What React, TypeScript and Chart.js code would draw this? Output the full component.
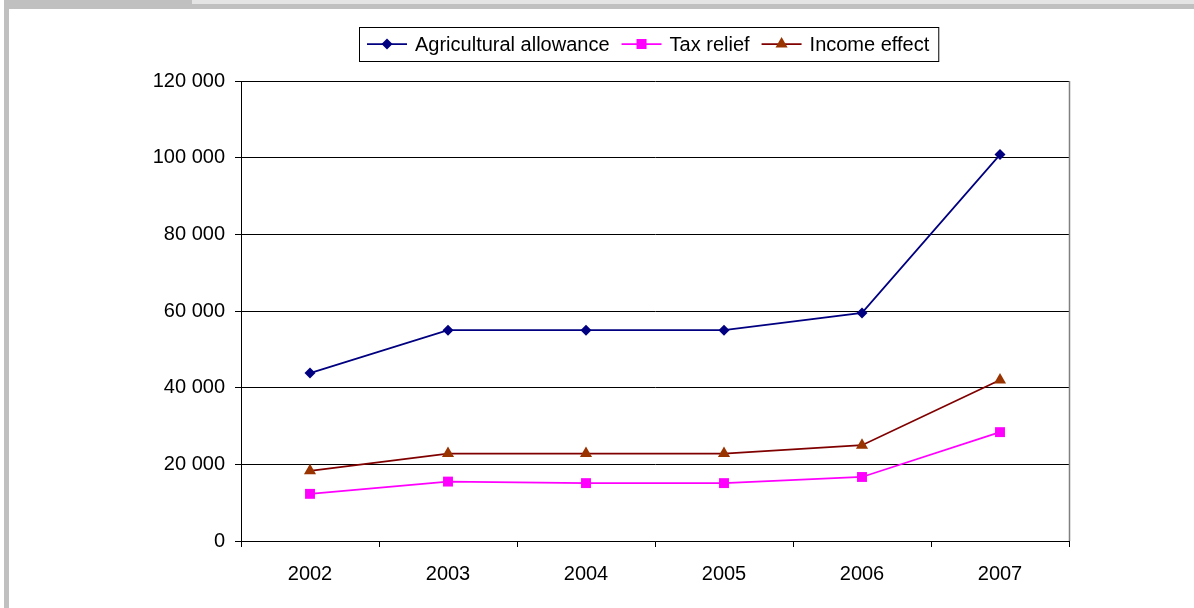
import React, { useEffect, useRef } from 'react';
import { Chart, registerables } from 'chart.js';

Chart.register(...registerables);

const years = ['2002', '2003', '2004', '2005', '2006', '2007'];
const agricultural = [43800, 55000, 55000, 55000, 59500, 100800];
const taxRelief = [12300, 15500, 15100, 15100, 16700, 28400];
const incomeEffect = [18300, 22800, 22800, 22800, 25000, 42000];
const seriesNames = ['Agricultural allowance', 'Tax relief', 'Income effect'];
const yMin = 0;
const yMax = 120000;
const yStep = 20000;

const FONT = '"Liberation Sans", Arial, sans-serif';

type Marker = 'diamond' | 'square' | 'triangle';

function drawMarker(ctx: CanvasRenderingContext2D, kind: Marker, x: number, y: number, color: string) {
  ctx.save();
  ctx.fillStyle = color;
  ctx.beginPath();
  if (kind === 'diamond') {
    const r = 5.5;
    ctx.moveTo(x, y - r);
    ctx.lineTo(x + r, y);
    ctx.lineTo(x, y + r);
    ctx.lineTo(x - r, y);
  } else if (kind === 'square') {
    const h = 5;
    ctx.rect(x - h, y - h, 2 * h, 2 * h);
  } else {
    const r = 7;
    ctx.moveTo(x, y - r);
    ctx.lineTo(x + r * 0.866, y + r * 0.5);
    ctx.lineTo(x - r * 0.866, y + r * 0.5);
  }
  ctx.closePath();
  ctx.fill();
  ctx.restore();
}

const legendItems: { name: string; line: string; marker: string; kind: Marker }[] = [
  { name: seriesNames[0], line: '#000080', marker: '#000080', kind: 'diamond' },
  { name: seriesNames[1], line: '#FF00FF', marker: '#FF00FF', kind: 'square' },
  { name: seriesNames[2], line: '#800000', marker: '#993300', kind: 'triangle' },
];

const customLegend = {
  id: 'customLegend',
  afterDraw(chart: any) {
    const ctx: CanvasRenderingContext2D = chart.ctx;
    ctx.save();
    ctx.font = `20px ${FONT}`;
    ctx.textBaseline = 'middle';
    ctx.textAlign = 'left';
    const left = 359;
    const top = 27;
    const cy = 44;
    let x = left + 8;
    for (let i = 0; i < legendItems.length; i++) {
      const it = legendItems[i];
      ctx.strokeStyle = it.line;
      ctx.lineWidth = 1.75;
      ctx.beginPath();
      ctx.moveTo(x, cy);
      ctx.lineTo(x + 40, cy);
      ctx.stroke();
      drawMarker(ctx, it.kind, x + 20, cy, it.marker);
      ctx.fillStyle = '#000';
      ctx.fillText(it.name, x + 48, cy + 1);
      const w = ctx.measureText(it.name).width;
      x = x + 48 + w + (i < legendItems.length - 1 ? 12 : 9);
    }
    ctx.strokeStyle = '#000';
    ctx.lineWidth = 1;
    ctx.strokeRect(left + 0.5, top + 0.5, x - left, 34);
    // right plot-area border
    const ca = chart.chartArea;
    ctx.strokeStyle = '#808080';
    ctx.lineWidth = 1.5;
    ctx.beginPath();
    ctx.moveTo(Math.round(ca.right) + 0.5, ca.top);
    ctx.lineTo(Math.round(ca.right) + 0.5, ca.bottom);
    ctx.stroke();
    ctx.restore();
  },
};

function fmt(v: number) {
  return String(v).replace(/\B(?=(\d{3})+(?!\d))/g, ' ');
}

export default function App() {
  const ref = useRef<HTMLCanvasElement | null>(null);

  useEffect(() => {
    if (!ref.current) return;
    Chart.defaults.font.family = FONT;
    const chart = new Chart(ref.current, {
      type: 'line',
      data: {
        labels: years,
        datasets: [
          {
            label: seriesNames[0],
            data: agricultural,
            borderColor: '#000080',
            backgroundColor: '#000080',
            borderWidth: 1.75,
            pointStyle: 'rectRot',
            pointRadius: 5.5,
            pointBorderWidth: 0,
            tension: 0,
          },
          {
            label: seriesNames[1],
            data: taxRelief,
            borderColor: '#FF00FF',
            backgroundColor: '#FF00FF',
            borderWidth: 1.75,
            pointStyle: 'rect',
            pointRadius: 7,
            pointBorderWidth: 0,
            tension: 0,
          },
          {
            label: seriesNames[2],
            data: incomeEffect,
            borderColor: '#800000',
            backgroundColor: '#993300',
            pointBackgroundColor: '#993300',
            borderWidth: 1.75,
            pointStyle: 'triangle',
            pointRadius: 7,
            pointBorderWidth: 0,
            tension: 0,
          },
        ],
      },
      options: {
        animation: false,
        responsive: false,
        maintainAspectRatio: false,
        layout: { padding: { left: 0, top: 81, right: 125, bottom: 0 } },
        plugins: {
          legend: { display: false },
          tooltip: { enabled: false },
          title: { display: false },
        },
        scales: {
          x: {
            offset: true,
            grid: {
              offset: true,
              drawOnChartArea: false,
              drawTicks: true,
              tickLength: 6,
              color: '#000',
            },
            border: { display: true, color: '#000', width: 1 },
            ticks: { color: '#000', font: { size: 20, family: FONT }, padding: 15, maxRotation: 0 },
            afterFit: (axis: any) => {
              axis.height = 67;
            },
          },
          y: {
            min: yMin,
            max: yMax,
            grid: { color: '#000', lineWidth: 1, tickLength: 6, drawTicks: true },
            border: { display: true, color: '#000', width: 1 },
            ticks: {
              stepSize: yStep,
              color: '#000',
              padding: 10,
              font: { size: 20, family: FONT },
              callback: (v: any) => fmt(Number(v)),
            },
            afterFit: (axis: any) => {
              axis.width = 241;
            },
          },
        },
      },
      plugins: [customLegend],
    });
    return () => chart.destroy();
  }, []);

  return (
    <div style={{ position: 'absolute', left: 0, top: 0, width: 1194, height: 608, background: '#fff', overflow: 'hidden' }}>
      <canvas ref={ref} width={1194} height={608} style={{ position: 'absolute', left: 0, top: 0 }} />
      <div style={{ position: 'absolute', left: 4, top: 0, width: 1190, height: 9, background: '#c0c0c0' }} />
      <div style={{ position: 'absolute', left: 192, top: 0, width: 1002, height: 4, background: '#e4e4e4' }} />
      <div style={{ position: 'absolute', left: 4, top: 0, width: 5, height: 608, background: '#c0c0c0' }} />
    </div>
  );
}
